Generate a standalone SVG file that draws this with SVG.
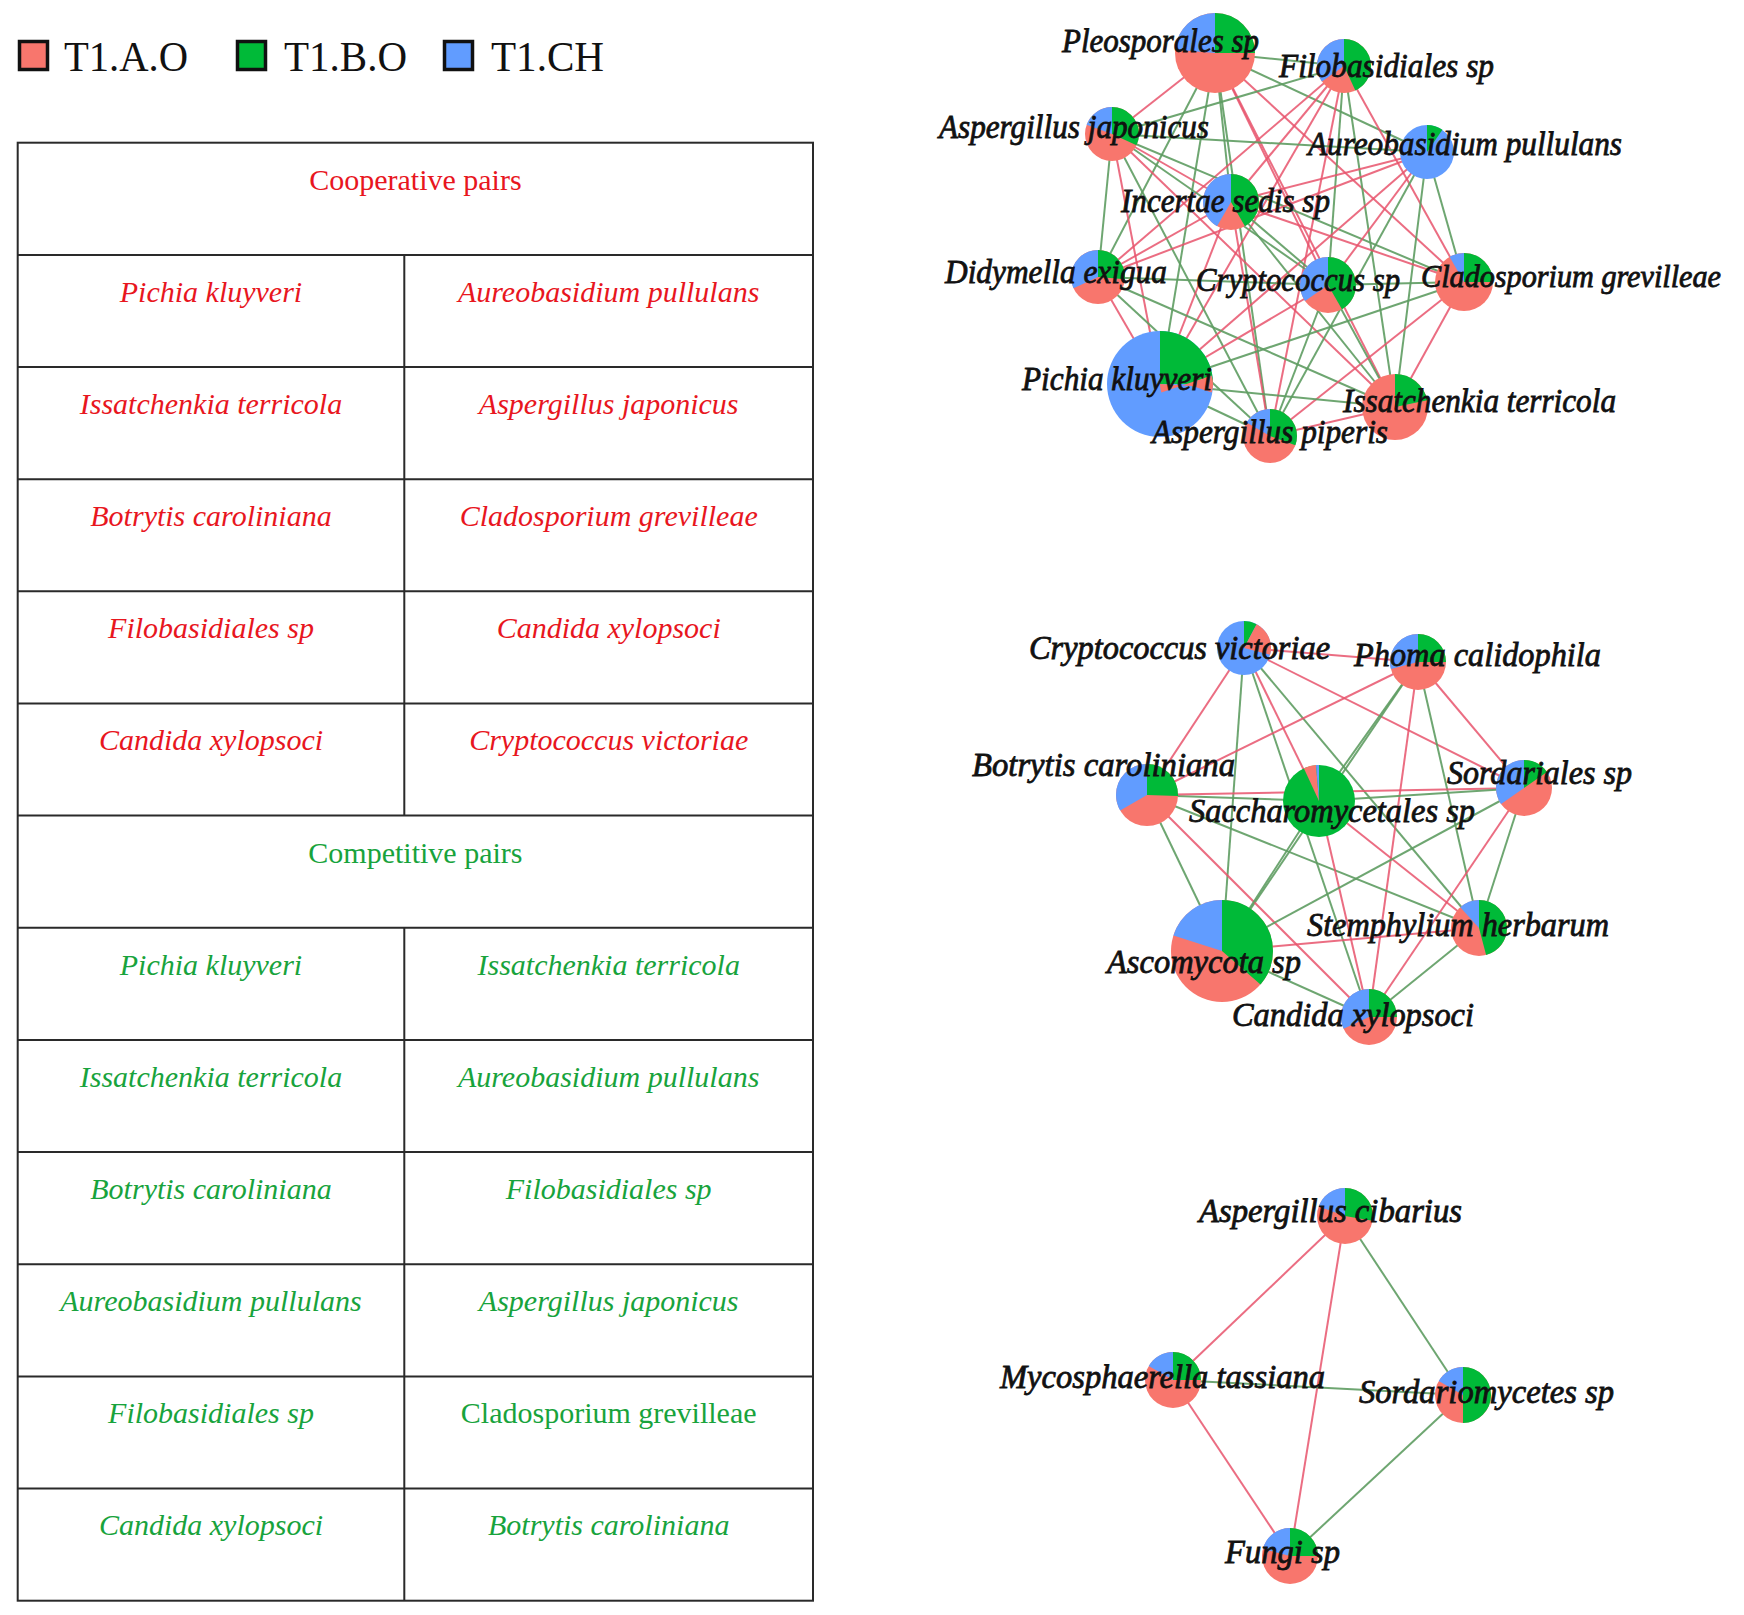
<svg xmlns="http://www.w3.org/2000/svg" width="1744" height="1615" viewBox="0 0 1744 1615">
<style>
.bg{fill:#fff}
.leg{font-family:"Liberation Serif","Times New Roman",serif;font-size:43px;fill:#111}
.sq{stroke:#111;stroke-width:3.5}
.tl{stroke:#2a2a2a;stroke-width:2;fill:none}
.th{font-family:"Liberation Serif","Times New Roman",serif;font-size:30px;text-anchor:middle}
.it{font-style:italic}
.cr{fill:#e8161e}
.cg{fill:#18a33c}
.er{stroke:#e8536c;stroke-width:2;stroke-opacity:0.85}
.eg{stroke:#5e9c62;stroke-width:2;stroke-opacity:0.9}
.red{fill:#F8766D}
.blu{fill:#619CFF}
.grn{fill:#00BA38}
.sg{fill:none;stroke:#00BA38}
.sb{fill:none;stroke:#619CFF}
.sr{fill:none;stroke:#F8766D}
.lbl{font-family:"Liberation Serif","Times New Roman",serif;font-style:italic;font-size:33px;fill:#111;stroke:#111;stroke-width:0.8}
.lsm{font-size:30.5px}
</style>
<rect class="bg" x="0" y="0" width="1744" height="1615"/>

<g id="legend">
<rect class="sq red" x="19.5" y="41.5" width="28" height="28"/>
<text class="leg" x="64" y="71" textLength="124" lengthAdjust="spacingAndGlyphs">T1.A.O</text>
<rect class="sq grn" x="237.5" y="41.5" width="28" height="28"/>
<text class="leg" x="284" y="71" textLength="123" lengthAdjust="spacingAndGlyphs">T1.B.O</text>
<rect class="sq blu" x="444.5" y="41.5" width="28" height="28"/>
<text class="leg" x="491" y="71" textLength="113" lengthAdjust="spacingAndGlyphs">T1.CH</text>
</g>

<g id="table">
<rect class="tl" x="17.7" y="142.7" width="795.3" height="1458"/>
<path class="tl" d="M17.7 254.9H813M17.7 367H813M17.7 479.2H813M17.7 591.3H813M17.7 703.5H813M17.7 815.6H813M17.7 927.8H813M17.7 1039.9H813M17.7 1152.1H813M17.7 1264.2H813M17.7 1376.4H813M17.7 1488.5H813M404.3 254.9V815.6M404.3 927.8V1600.7"/>
<text class="th cr" x="415.4" y="190">Cooperative pairs</text>
<text class="th cr it" x="211" y="302">Pichia kluyveri</text>
<text class="th cr it" x="608.7" y="302">Aureobasidium pullulans</text>
<text class="th cr it" x="211" y="414">Issatchenkia terricola</text>
<text class="th cr it" x="608.7" y="414">Aspergillus japonicus</text>
<text class="th cr it" x="211" y="526">Botrytis caroliniana</text>
<text class="th cr it" x="608.7" y="526">Cladosporium grevilleae</text>
<text class="th cr it" x="211" y="638">Filobasidiales sp</text>
<text class="th cr it" x="608.7" y="638">Candida xylopsoci</text>
<text class="th cr it" x="211" y="750">Candida xylopsoci</text>
<text class="th cr it" x="608.7" y="750">Cryptococcus victoriae</text>
<text class="th cg" x="415.4" y="863">Competitive pairs</text>
<text class="th cg it" x="211" y="975">Pichia kluyveri</text>
<text class="th cg it" x="608.7" y="975">Issatchenkia terricola</text>
<text class="th cg it" x="211" y="1087">Issatchenkia terricola</text>
<text class="th cg it" x="608.7" y="1087">Aureobasidium pullulans</text>
<text class="th cg it" x="211" y="1199">Botrytis caroliniana</text>
<text class="th cg it" x="608.7" y="1199">Filobasidiales sp</text>
<text class="th cg it" x="211" y="1311">Aureobasidium pullulans</text>
<text class="th cg it" x="608.7" y="1311">Aspergillus japonicus</text>
<text class="th cg it" x="211" y="1423">Filobasidiales sp</text>
<text class="th cg" x="608.7" y="1423">Cladosporium grevilleae</text>
<text class="th cg it" x="211" y="1535">Candida xylopsoci</text>
<text class="th cg it" x="608.7" y="1535">Botrytis caroliniana</text>
</g>

<g id="connectors">
<line class="eg" x1="1215" y1="53" x2="1344" y2="66"/>
<line class="er" x1="1215" y1="53" x2="1112" y2="134"/>
<line class="eg" x1="1215" y1="53" x2="1427" y2="152"/>
<line class="eg" x1="1215" y1="53" x2="1231" y2="202"/>
<line class="eg" x1="1215" y1="53" x2="1098" y2="277"/>
<line class="er" x1="1215" y1="53" x2="1328" y2="285"/>
<line class="er" x1="1215" y1="53" x2="1464" y2="282"/>
<line class="eg" x1="1215" y1="53" x2="1160" y2="384"/>
<line class="er" x1="1215" y1="53" x2="1395" y2="407"/>
<line class="eg" x1="1215" y1="53" x2="1270" y2="436"/>
<line class="eg" x1="1344" y1="66" x2="1112" y2="134"/>
<line class="er" x1="1344" y1="66" x2="1231" y2="202"/>
<line class="er" x1="1344" y1="66" x2="1098" y2="277"/>
<line class="eg" x1="1344" y1="66" x2="1328" y2="285"/>
<line class="er" x1="1344" y1="66" x2="1464" y2="282"/>
<line class="er" x1="1344" y1="66" x2="1160" y2="384"/>
<line class="eg" x1="1344" y1="66" x2="1395" y2="407"/>
<line class="er" x1="1344" y1="66" x2="1270" y2="436"/>
<line class="eg" x1="1112" y1="134" x2="1427" y2="152"/>
<line class="er" x1="1112" y1="134" x2="1231" y2="202"/>
<line class="eg" x1="1112" y1="134" x2="1098" y2="277"/>
<line class="eg" x1="1112" y1="134" x2="1328" y2="285"/>
<line class="eg" x1="1112" y1="134" x2="1464" y2="282"/>
<line class="er" x1="1112" y1="134" x2="1160" y2="384"/>
<line class="er" x1="1112" y1="134" x2="1395" y2="407"/>
<line class="eg" x1="1112" y1="134" x2="1270" y2="436"/>
<line class="er" x1="1427" y1="152" x2="1231" y2="202"/>
<line class="er" x1="1427" y1="152" x2="1098" y2="277"/>
<line class="er" x1="1427" y1="152" x2="1328" y2="285"/>
<line class="eg" x1="1427" y1="152" x2="1464" y2="282"/>
<line class="er" x1="1427" y1="152" x2="1160" y2="384"/>
<line class="eg" x1="1427" y1="152" x2="1395" y2="407"/>
<line class="eg" x1="1427" y1="152" x2="1270" y2="436"/>
<line class="er" x1="1231" y1="202" x2="1098" y2="277"/>
<line class="eg" x1="1231" y1="202" x2="1328" y2="285"/>
<line class="er" x1="1231" y1="202" x2="1464" y2="282"/>
<line class="er" x1="1231" y1="202" x2="1160" y2="384"/>
<line class="eg" x1="1231" y1="202" x2="1395" y2="407"/>
<line class="er" x1="1231" y1="202" x2="1270" y2="436"/>
<line class="eg" x1="1098" y1="277" x2="1328" y2="285"/>
<line class="er" x1="1098" y1="277" x2="1160" y2="384"/>
<line class="eg" x1="1098" y1="277" x2="1395" y2="407"/>
<line class="eg" x1="1098" y1="277" x2="1270" y2="436"/>
<line class="eg" x1="1328" y1="285" x2="1464" y2="282"/>
<line class="er" x1="1328" y1="285" x2="1160" y2="384"/>
<line class="eg" x1="1328" y1="285" x2="1395" y2="407"/>
<line class="eg" x1="1328" y1="285" x2="1270" y2="436"/>
<line class="eg" x1="1464" y1="282" x2="1160" y2="384"/>
<line class="er" x1="1464" y1="282" x2="1395" y2="407"/>
<line class="er" x1="1464" y1="282" x2="1270" y2="436"/>
<line class="eg" x1="1160" y1="384" x2="1395" y2="407"/>
<line class="eg" x1="1160" y1="384" x2="1270" y2="436"/>
<line class="er" x1="1395" y1="407" x2="1270" y2="436"/>
<line class="er" x1="1244" y1="648" x2="1418" y2="662"/>
<line class="er" x1="1244" y1="648" x2="1147" y2="795"/>
<line class="er" x1="1244" y1="648" x2="1319" y2="801"/>
<line class="er" x1="1244" y1="648" x2="1524" y2="788"/>
<line class="eg" x1="1244" y1="648" x2="1222" y2="951"/>
<line class="eg" x1="1244" y1="648" x2="1479" y2="928"/>
<line class="eg" x1="1244" y1="648" x2="1369" y2="1017"/>
<line class="er" x1="1418" y1="662" x2="1147" y2="795"/>
<line class="eg" x1="1418" y1="662" x2="1222" y2="951" stroke-width="3"/>
<line class="er" x1="1418" y1="662" x2="1524" y2="788"/>
<line class="eg" x1="1418" y1="662" x2="1479" y2="928"/>
<line class="er" x1="1418" y1="662" x2="1369" y2="1017"/>
<line class="eg" x1="1418" y1="662" x2="1319" y2="801"/>
<line class="eg" x1="1147" y1="795" x2="1319" y2="801"/>
<line class="er" x1="1147" y1="795" x2="1524" y2="788"/>
<line class="eg" x1="1147" y1="795" x2="1222" y2="951"/>
<line class="eg" x1="1147" y1="795" x2="1479" y2="928"/>
<line class="er" x1="1147" y1="795" x2="1369" y2="1017"/>
<line class="eg" x1="1319" y1="801" x2="1524" y2="788"/>
<line class="eg" x1="1319" y1="801" x2="1222" y2="951" stroke-width="3"/>
<line class="er" x1="1319" y1="801" x2="1479" y2="928"/>
<line class="er" x1="1319" y1="801" x2="1369" y2="1017"/>
<line class="eg" x1="1524" y1="788" x2="1222" y2="951"/>
<line class="eg" x1="1524" y1="788" x2="1479" y2="928"/>
<line class="er" x1="1524" y1="788" x2="1369" y2="1017"/>
<line class="er" x1="1222" y1="951" x2="1479" y2="928"/>
<line class="eg" x1="1222" y1="951" x2="1369" y2="1017"/>
<line class="eg" x1="1479" y1="928" x2="1369" y2="1017"/>
<line class="er" x1="1345" y1="1216" x2="1173" y2="1380"/>
<line class="er" x1="1345" y1="1216" x2="1290" y2="1556"/>
<line class="eg" x1="1345" y1="1216" x2="1463" y2="1395"/>
<line class="eg" x1="1173" y1="1380" x2="1463" y2="1395"/>
<line class="er" x1="1173" y1="1380" x2="1290" y2="1556"/>
<line class="eg" x1="1463" y1="1395" x2="1290" y2="1556"/>
</g>

<g id="n-aureobasidium">
<g transform="translate(1427,152)"><circle r="27" class="blu"/><circle r="13.5" stroke-width="27" class="sg" pathLength="360" stroke-dasharray="35 360" transform="rotate(-90)"/></g>
<text class="lbl" x="1308" y="155" textLength="314" lengthAdjust="spacingAndGlyphs">Aureobasidium pullulans</text>
</g>
<g id="n-incertae">
<g transform="translate(1231,202)"><circle r="28" class="red"/><circle r="14" stroke-width="28" class="sg" pathLength="360" stroke-dasharray="150 360" transform="rotate(-90)"/><circle r="14" stroke-width="28" class="sb" pathLength="360" stroke-dasharray="150 360" stroke-dashoffset="-210" transform="rotate(-90)"/></g>
<text class="lbl" x="1121" y="212" textLength="209" lengthAdjust="spacingAndGlyphs">Incertae sedis sp</text>
</g>
<g id="n-pleosporales">
<g transform="translate(1215,53)"><circle r="40" class="red"/><circle r="20" stroke-width="40" class="sg" pathLength="360" stroke-dasharray="90 360" transform="rotate(-90)"/><circle r="20" stroke-width="40" class="sb" pathLength="360" stroke-dasharray="85 360" stroke-dashoffset="-275" transform="rotate(-90)"/></g>
<text class="lbl" x="1062" y="52" textLength="197" lengthAdjust="spacingAndGlyphs">Pleosporales sp</text>
</g>
<g id="n-filobasidiales">
<g transform="translate(1344,66)"><circle r="27" class="red"/><circle r="13.5" stroke-width="27" class="sg" pathLength="360" stroke-dasharray="155 360" transform="rotate(-90)"/><circle r="13.5" stroke-width="27" class="sb" pathLength="360" stroke-dasharray="125 360" stroke-dashoffset="-235" transform="rotate(-90)"/></g>
<text class="lbl" x="1279" y="77" textLength="215" lengthAdjust="spacingAndGlyphs">Filobasidiales sp</text>
</g>
<g id="n-japonicus">
<g transform="translate(1112,134)"><circle r="27" class="red"/><circle r="13.5" stroke-width="27" class="sg" pathLength="360" stroke-dasharray="115 360" transform="rotate(-90)"/><circle r="13.5" stroke-width="27" class="sb" pathLength="360" stroke-dasharray="70 360" stroke-dashoffset="-290" transform="rotate(-90)"/></g>
<text class="lbl" x="939" y="138" textLength="270" lengthAdjust="spacingAndGlyphs">Aspergillus japonicus</text>
</g>
<g id="n-didymella">
<g transform="translate(1098,277)"><circle r="27" class="red"/><circle r="13.5" stroke-width="27" class="sg" pathLength="360" stroke-dasharray="95 360" transform="rotate(-90)"/><circle r="13.5" stroke-width="27" class="sb" pathLength="360" stroke-dasharray="115 360" stroke-dashoffset="-245" transform="rotate(-90)"/></g>
<text class="lbl" x="945" y="283" textLength="222" lengthAdjust="spacingAndGlyphs">Didymella exigua</text>
</g>
<g id="n-cryptococcus">
<g transform="translate(1328,285)"><circle r="28" class="red"/><circle r="14" stroke-width="28" class="sg" pathLength="360" stroke-dasharray="150 360" transform="rotate(-90)"/><circle r="14" stroke-width="28" class="sb" pathLength="360" stroke-dasharray="125 360" stroke-dashoffset="-235" transform="rotate(-90)"/></g>
<text class="lbl" x="1196" y="291" textLength="204" lengthAdjust="spacingAndGlyphs">Cryptococcus sp</text>
</g>
<g id="n-cladosporium">
<g transform="translate(1464,282)"><circle r="29" class="red"/><circle r="14.5" stroke-width="29" class="sg" pathLength="360" stroke-dasharray="90 360" transform="rotate(-90)"/><circle r="14.5" stroke-width="29" class="sb" pathLength="360" stroke-dasharray="30 360" stroke-dashoffset="-330" transform="rotate(-90)"/></g>
<text class="lbl lsm" x="1421" y="287" textLength="300" lengthAdjust="spacingAndGlyphs">Cladosporium grevilleae</text>
</g>
<g id="n-issatchenkia">
<g transform="translate(1395,407)"><circle r="33" class="red"/><circle r="16.5" stroke-width="33" class="sg" pathLength="360" stroke-dasharray="78 360" transform="rotate(-90)"/></g>
<text class="lbl" x="1343" y="412" textLength="273" lengthAdjust="spacingAndGlyphs">Issatchenkia terricola</text>
</g>
<g id="n-pichia">
<g transform="translate(1160,384)"><circle r="53" class="blu"/><circle r="26.5" stroke-width="53" class="sg" pathLength="360" stroke-dasharray="90 360" transform="rotate(-90)"/><circle r="26.5" stroke-width="53" class="sr" pathLength="360" stroke-dasharray="4 360" stroke-dashoffset="-90" transform="rotate(-90)"/></g>
<text class="lbl" x="1022" y="390" textLength="190" lengthAdjust="spacingAndGlyphs">Pichia kluyveri</text>
</g>
<g id="n-piperis">
<g transform="translate(1270,436)"><circle r="27" class="red"/><circle r="13.5" stroke-width="27" class="sg" pathLength="360" stroke-dasharray="110 360" transform="rotate(-90)"/><circle r="13.5" stroke-width="27" class="sb" pathLength="360" stroke-dasharray="60 360" stroke-dashoffset="-300" transform="rotate(-90)"/></g>
<text class="lbl" x="1152" y="443" textLength="236" lengthAdjust="spacingAndGlyphs">Aspergillus piperis</text>
</g>

<g id="n-victoriae">
<g transform="translate(1244,648)"><circle r="27" class="blu"/><circle r="13.5" stroke-width="27" class="sg" pathLength="360" stroke-dasharray="28 360" transform="rotate(-90)"/><circle r="13.5" stroke-width="27" class="sr" pathLength="360" stroke-dasharray="77 360" stroke-dashoffset="-28" transform="rotate(-90)"/></g>
<text class="lbl" x="1029" y="659" textLength="301" lengthAdjust="spacingAndGlyphs">Cryptococcus victoriae</text>
</g>
<g id="n-phoma">
<g transform="translate(1418,662)"><circle r="28" class="red"/><circle r="14" stroke-width="28" class="sg" pathLength="360" stroke-dasharray="90 360" transform="rotate(-90)"/><circle r="14" stroke-width="28" class="sb" pathLength="360" stroke-dasharray="105 360" stroke-dashoffset="-255" transform="rotate(-90)"/></g>
<text class="lbl" x="1354" y="666" textLength="247" lengthAdjust="spacingAndGlyphs">Phoma calidophila</text>
</g>
<g id="n-botrytis">
<g transform="translate(1147,795)"><circle r="31" class="red"/><circle r="15.5" stroke-width="31" class="sg" pathLength="360" stroke-dasharray="92 360" transform="rotate(-90)"/><circle r="15.5" stroke-width="31" class="sb" pathLength="360" stroke-dasharray="120 360" stroke-dashoffset="-240" transform="rotate(-90)"/></g>
<text class="lbl" x="972" y="776" textLength="263" lengthAdjust="spacingAndGlyphs">Botrytis caroliniana</text>
</g>
<g id="n-saccharomycetales">
<g transform="translate(1319,801)"><circle r="36" class="grn"/><circle r="18" stroke-width="36" class="sr" pathLength="360" stroke-dasharray="20 360" stroke-dashoffset="-335" transform="rotate(-90)"/><circle r="18" stroke-width="36" class="sb" pathLength="360" stroke-dasharray="5 360" stroke-dashoffset="-355" transform="rotate(-90)"/></g>
<text class="lbl" x="1189" y="822" textLength="286" lengthAdjust="spacingAndGlyphs">Saccharomycetales sp</text>
</g>
<g id="n-sordariales">
<g transform="translate(1524,788)"><circle r="28" class="red"/><circle r="14" stroke-width="28" class="sg" pathLength="360" stroke-dasharray="55 360" transform="rotate(-90)"/><circle r="14" stroke-width="28" class="sb" pathLength="360" stroke-dasharray="125 360" stroke-dashoffset="-235" transform="rotate(-90)"/></g>
<text class="lbl" x="1447" y="784" textLength="185" lengthAdjust="spacingAndGlyphs">Sordariales sp</text>
</g>
<g id="n-stemphylium">
<g transform="translate(1479,928)"><circle r="28" class="red"/><circle r="14" stroke-width="28" class="sg" pathLength="360" stroke-dasharray="165 360" transform="rotate(-90)"/><circle r="14" stroke-width="28" class="sb" pathLength="360" stroke-dasharray="42 360" stroke-dashoffset="-318" transform="rotate(-90)"/></g>
<text class="lbl" x="1307" y="936" textLength="302" lengthAdjust="spacingAndGlyphs">Stemphylium herbarum</text>
</g>
<g id="n-ascomycota">
<g transform="translate(1222,951)"><circle r="51" class="red"/><circle r="25.5" stroke-width="51" class="sg" pathLength="360" stroke-dasharray="131 360" transform="rotate(-90)"/><circle r="25.5" stroke-width="51" class="sb" pathLength="360" stroke-dasharray="72 360" stroke-dashoffset="-288" transform="rotate(-90)"/></g>
<text class="lbl" x="1107" y="973" textLength="194" lengthAdjust="spacingAndGlyphs">Ascomycota sp</text>
</g>
<g id="n-candida">
<g transform="translate(1369,1017)"><circle r="28" class="red"/><circle r="14" stroke-width="28" class="sg" pathLength="360" stroke-dasharray="90 360" transform="rotate(-90)"/><circle r="14" stroke-width="28" class="sb" pathLength="360" stroke-dasharray="115 360" stroke-dashoffset="-245" transform="rotate(-90)"/></g>
<text class="lbl" x="1232" y="1026" textLength="242" lengthAdjust="spacingAndGlyphs">Candida xylopsoci</text>
</g>

<g id="n-cibarius">
<g transform="translate(1345,1216)"><circle r="28" class="red"/><circle r="14" stroke-width="28" class="sg" pathLength="360" stroke-dasharray="100 360" transform="rotate(-90)"/><circle r="14" stroke-width="28" class="sb" pathLength="360" stroke-dasharray="70 360" stroke-dashoffset="-290" transform="rotate(-90)"/></g>
<text class="lbl" x="1199" y="1222" textLength="263" lengthAdjust="spacingAndGlyphs">Aspergillus cibarius</text>
</g>
<g id="n-mycosphaerella">
<g transform="translate(1173,1380)"><circle r="28" class="red"/><circle r="14" stroke-width="28" class="sg" pathLength="360" stroke-dasharray="90 360" transform="rotate(-90)"/><circle r="14" stroke-width="28" class="sb" pathLength="360" stroke-dasharray="60 360" stroke-dashoffset="-300" transform="rotate(-90)"/></g>
<text class="lbl" x="1000" y="1388" textLength="325" lengthAdjust="spacingAndGlyphs">Mycosphaerella tassiana</text>
</g>
<g id="n-sordariomycetes">
<g transform="translate(1463,1395)"><circle r="28" class="red"/><circle r="14" stroke-width="28" class="sg" pathLength="360" stroke-dasharray="180 360" transform="rotate(-90)"/><circle r="14" stroke-width="28" class="sb" pathLength="360" stroke-dasharray="60 360" stroke-dashoffset="-300" transform="rotate(-90)"/></g>
<text class="lbl" x="1359" y="1403" textLength="255" lengthAdjust="spacingAndGlyphs">Sordariomycetes sp</text>
</g>
<g id="n-fungi">
<g transform="translate(1290,1556)"><circle r="28" class="red"/><circle r="14" stroke-width="28" class="sg" pathLength="360" stroke-dasharray="90 360" transform="rotate(-90)"/><circle r="14" stroke-width="28" class="sb" pathLength="360" stroke-dasharray="75 360" stroke-dashoffset="-285" transform="rotate(-90)"/></g>
<text class="lbl" x="1225" y="1563" textLength="115" lengthAdjust="spacingAndGlyphs">Fungi sp</text>
</g>
</svg>
